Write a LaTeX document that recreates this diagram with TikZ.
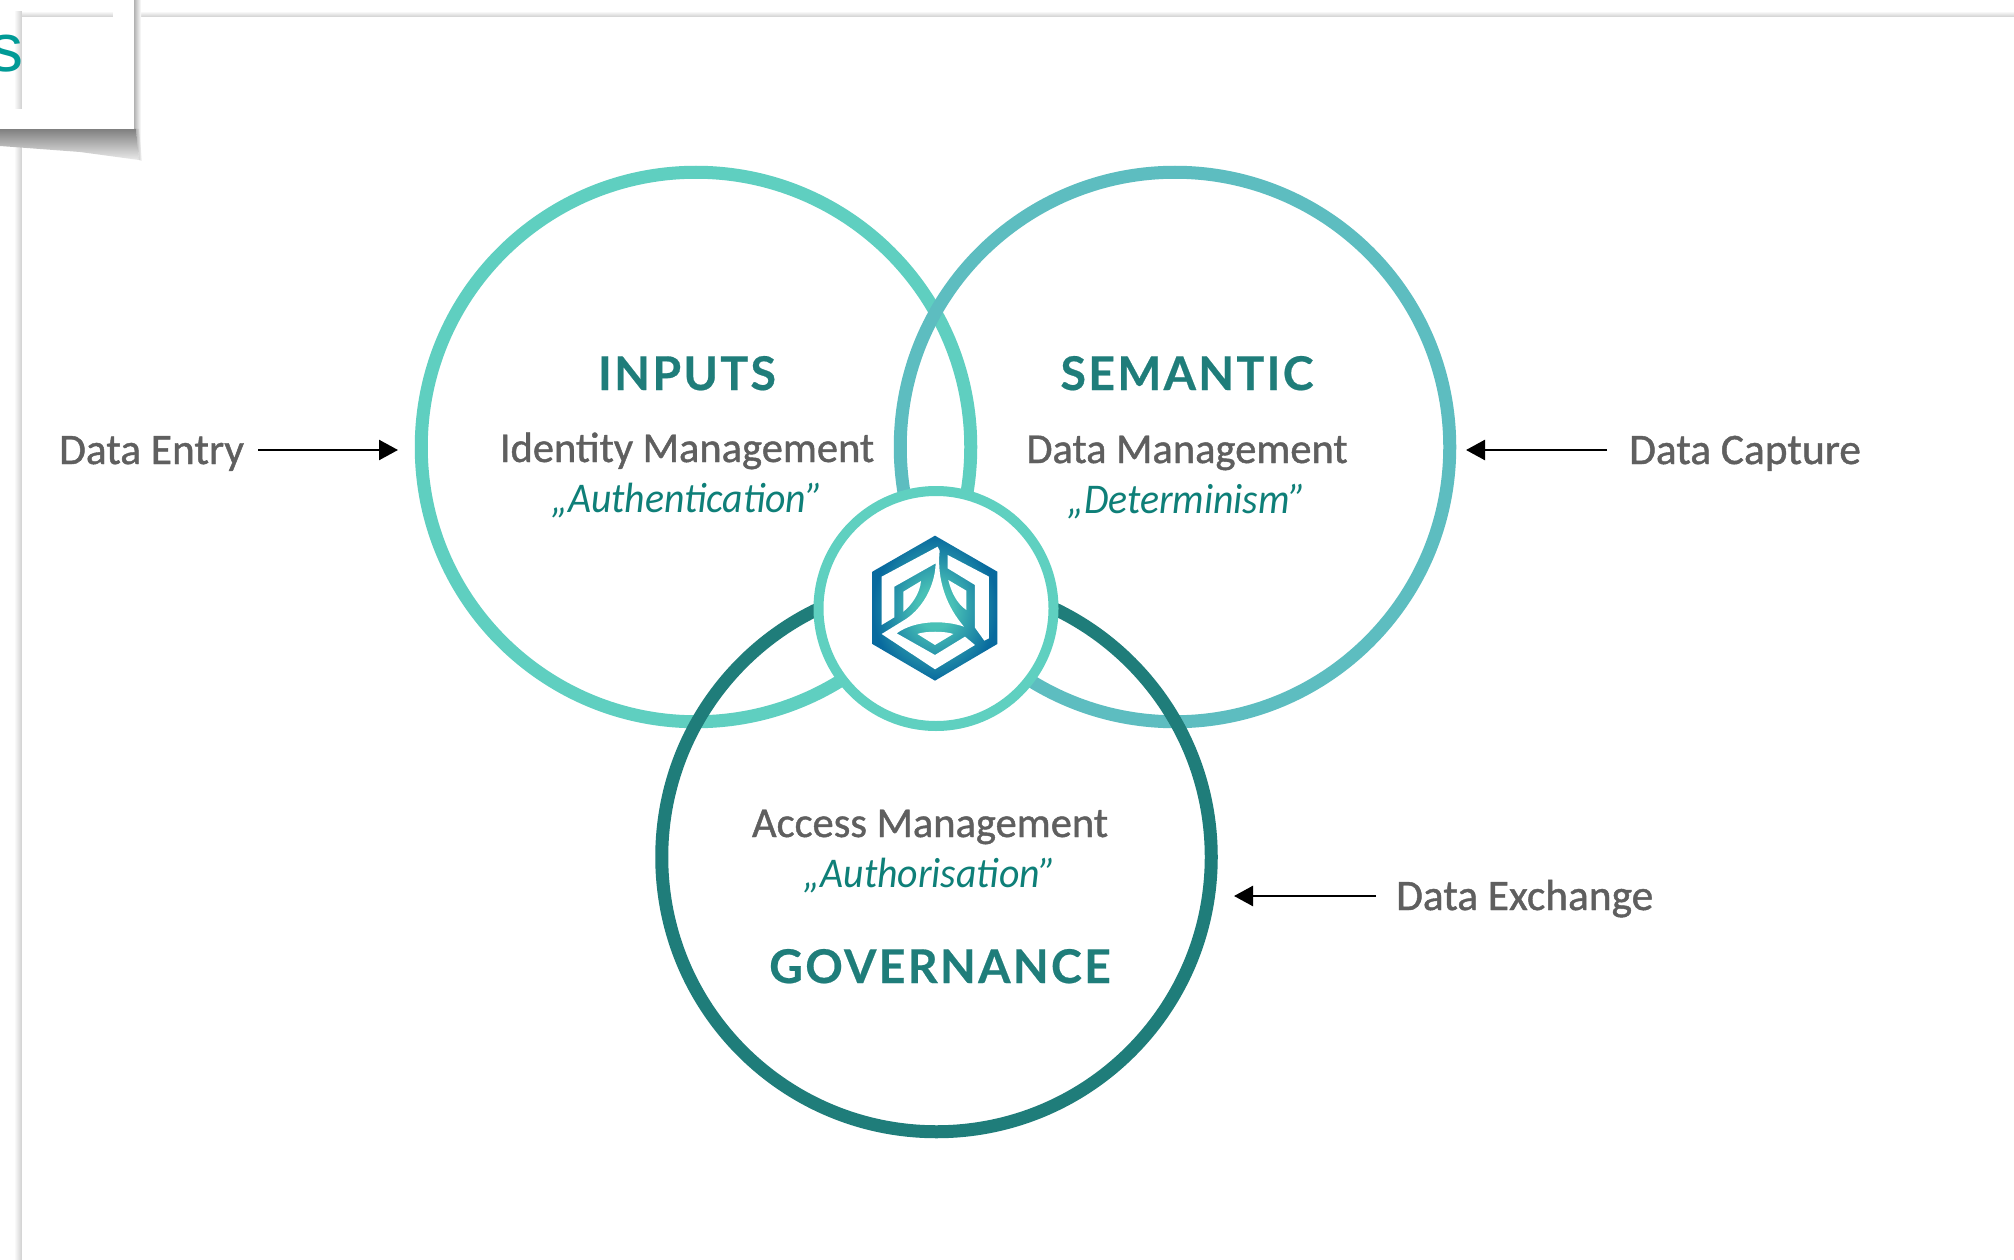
\documentclass[tikz,border=0pt]{standalone}
\usepackage{fontspec}
\usetikzlibrary{arrows.meta}
\newfontfamily\labfont{Carlito}[FakeBold=1.0]
\newfontfamily\itfont{Carlito}[ItalicFont=* Italic,ItalicFeatures={FakeStretch=0.94}]
\newfontfamily\headfont{Lato}[LetterSpace=5,BoldFont=* Bold,BoldFeatures={FakeBold=0.5}]
\newfontfamily\sfont{Liberation Sans}
\definecolor{cinputs}{HTML}{5FCFC0}
\definecolor{csemantic}{HTML}{5DBDC0}
\definecolor{cgov}{HTML}{1F7D7A}
\definecolor{ccenter}{HTML}{5FD0C0}
\definecolor{cgray}{HTML}{5F5F5F}
\definecolor{cital}{HTML}{0E7F78}
\definecolor{cline}{HTML}{CFCFCF}
\definecolor{cs}{HTML}{009A96}
\definecolor{logoin}{HTML}{48C0B6}
\definecolor{logoout}{HTML}{086A9E}
\pgfdeclareradialshading{logoshade}{\pgfpoint{0bp}{0bp}}{color(0bp)=(logoin); color(7bp)=(logoin); color(25bp)=(logoout); color(50bp)=(logoout)}
\tikzset{
  ring/.style={circle,draw,fill=none,minimum size=#1,inner sep=0pt},
  head/.style={anchor=base,inner sep=0pt,text=cgov,font=\headfont\bfseries\fontsize{46.5}{50}\selectfont},
  sub/.style={anchor=base,inner sep=0pt,text=cgray,font=\labfont\fontsize{42.5}{50}\selectfont},
  side/.style={anchor=base west,inner sep=0pt,text=cgray,font=\labfont\fontsize{43.4}{50}\selectfont},
  ital/.style={anchor=base,inner sep=0pt,text=cital,font=\itfont\itshape\fontsize{42.3}{50}\selectfont},
  flow/.style={draw=black,line width=2.5pt,-{Triangle[length=19pt,width=20pt]}}
}
\begin{document}
\begin{tikzpicture}[x=1pt,y=-1pt]
\useasboundingbox (0,0) rectangle (2014,1260);
\fill[white] (0,0) rectangle (2014,1260);
% page edges
\shade[left color=white,right color=cline] (14,0) rectangle (22,1260);
\shade[top color=white,bottom color=cline] (22,11) rectangle (2014,17);
\fill[white] (22,17) rectangle (2014,1260);
% card shadows
\shade[left color=black!30,right color=white] (134,0) rectangle (141,150);
\shade[top color=black!50,bottom color=black!8] (0,129) -- (136,129) -- (139,160) -- (80,152) -- (0,146) -- cycle;
\shade[left color=black!30,right color=white] (136,129) -- (139,129) -- (142,161) -- (139,160) -- cycle;
% card frame
\fill[white] (113,0) rectangle (134,129);
\fill[white] (0,109) rectangle (134,129);
\fill[white] (0,0) rectangle (134,11);
\fill[white] (0,0) rectangle (14,129);
\node[anchor=base east,inner sep=0pt,text=cs,font=\sfont\fontsize{68}{70}\selectfont] (cut) at (24,72) {s};
% circles
\node[ring=549.5pt,draw=cinputs,line width=13pt] (inputs) at (696,447) {};
\node[ring=549.5pt,draw=csemantic,line width=13pt] (semantic) at (1175,447) {};
\node[ring=549.5pt,draw=cgov,line width=13pt] (gov) at (936.5,857) {};
\node[ring=235pt,draw=ccenter,fill=white,line width=10pt] (hub) at (936,608.5) {};
% logo
\begin{scope}[shift={(865,530)},x=0.3333pt,y=-0.3333pt]
\shade[shading=logoshade] (210,17) -- (397,125) -- (397,342) -- (210,452) -- (22,342) -- (22,125) -- cycle;
\fill[white] (50,285) -- (50,140) -- (218,50) -- (224,62)
  .. controls (215,150) and (245,230) .. (297,290)
  .. controls (240,270) and (150,270) .. (95,310)
  -- (210,375) -- (300,320) -- (330,345) -- (210,418) -- (50,312) -- (115,272)
  .. controls (170,240) and (210,170) .. (212,100)
  -- (88,170) -- (88,262) -- cycle;
\fill[white] (248,75) -- (372,140) -- (372,325) -- (358,332) -- (330,293) -- (330,165) -- (248,115) -- cycle;
\fill[white] (115,185) -- (168,153) .. controls (165,190) and (140,225) .. (115,245) -- cycle;
\fill[white] (250,150) -- (304,182) -- (304,240) .. controls (275,220) and (258,185) .. (250,150) -- cycle;
\fill[white] (157,312) .. controls (180,303) and (240,303) .. (265,312) -- (210,345) -- cycle;
\end{scope}
% texts
\node[head] (tinputs) at (687,390) {INPUTS};
\node[sub] (tidentity) at (687,462) {Identity Management};
\node[ital] (tauth) at (687,512) {„Authentication”};
\node[head] (tsemantic) at (1187,390) {SEMANTIC};
\node[sub] (tdata) at (1187,463) {Data Management};
\node[ital] (tdet) at (1187,513) {„Determinism”};
\node[sub] (taccess) at (930,837) {Access Management};
\node[ital] (tauthz) at (930,887) {„Authorisation”};
\node[head] (tgov) at (940,983) {GOVERNANCE};
% side labels and arrows
\node[side] (entry) at (59,464) {Data Entry};
\node[side] (capture) at (1629,464) {Data Capture};
\node[side] (exchange) at (1396,910) {Data Exchange};
\coordinate (entrytip) at (398,450);
\coordinate (capturetip) at (1466,450);
\coordinate (exchangetip) at (1234,896);
\draw[flow] ([xshift=14pt]entry.east |- entrytip) -- (entrytip);
\draw[flow] ([xshift=-22pt]capture.west |- capturetip) -- (capturetip);
\draw[flow] ([xshift=-20pt]exchange.west |- exchangetip) -- (exchangetip);
\end{tikzpicture}
\end{document}
